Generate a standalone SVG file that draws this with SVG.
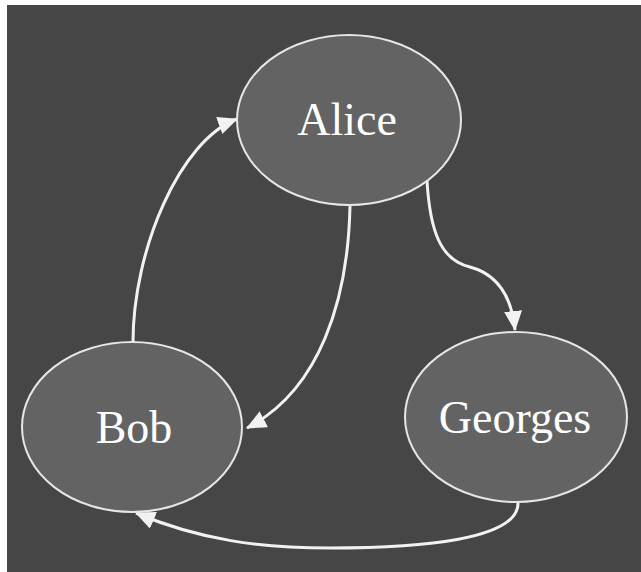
<svg xmlns="http://www.w3.org/2000/svg" width="641" height="572" viewBox="0 0 641 572">
<style>
.node ellipse{fill:#636363;stroke:#e6e6e6;stroke-width:2}
.node text{fill:#ffffff;font-family:"Liberation Serif","Times New Roman",serif;font-size:46px;text-anchor:middle}
.edge{fill:none;stroke:#f2f2f2;stroke-width:3;marker-end:url(#arr)}
</style>
<defs>
<marker id="arr" markerUnits="userSpaceOnUse" markerWidth="22" markerHeight="20" refX="19" refY="9" orient="auto" viewBox="0 0 22 20">
<path d="M0,0 L20,9 L0,18 Z" fill="#f2f2f2"/>
</marker>
</defs>
<rect x="0" y="0" width="641" height="572" fill="#ffffff"/>
<rect x="7" y="5" width="634" height="567" fill="#464646"/>
<g id="connectors">
<path class="edge" d="M133,342 C133,250 180,140 237,119"/>
<path class="edge" d="M350,206 C348,300 320,390 247,428"/>
<path class="edge" d="M427,181 C430,230 440,260 470,267 C500,275 512,300 515,330"/>
<path class="edge" d="M518,502 C520,540 420,548 330,548 C260,548 200,540 136,513"/>
</g>
<g id="alice" class="node"><ellipse cx="349" cy="120" rx="112" ry="85"/><text x="347" y="135">Alice</text></g>
<g id="bob" class="node"><ellipse cx="132" cy="427" rx="110" ry="85"/><text x="134" y="443">Bob</text></g>
<g id="georges" class="node"><ellipse cx="516" cy="417" rx="111" ry="85"/><text x="515" y="433">Georges</text></g>
</svg>
